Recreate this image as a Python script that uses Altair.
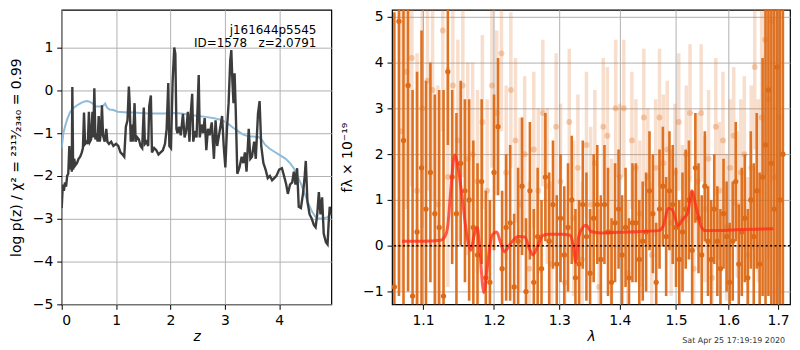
import altair as alt
import pandas as pd

# ---------------- left panel: log p(z) ----------------
logpz_z = [0.00,0.02,0.04,0.06,0.08,0.10,0.12,0.14,0.155,0.17,0.185,0.195,0.21,0.23,0.25,0.28,0.31,0.34,0.37,0.39,
           0.41,0.43,0.46,0.48,0.50,0.52,0.54,0.565,0.58,0.60,0.62,0.64,0.66,0.68,0.70,0.72,0.74,0.76,0.79,0.82,
           0.84,0.87,0.91,0.95,1.00,1.04,1.08,1.12,1.15,1.18,1.21,1.235,1.25,1.27,1.29,1.31,1.34,1.36,1.39,1.42,
           1.45,1.48,1.51,1.53,1.56,1.59,1.61,1.64,1.66,1.70,1.74,1.78,1.82,1.86,1.90,1.93,1.96,1.98,2.01,2.04,
           2.07,2.09,2.11,2.13,2.16,2.19,2.23,2.26,2.29,2.32,2.35,2.37,2.40,2.42,2.45,2.48,2.52,2.54,2.57,2.60,
           2.63,2.66,2.69,2.72,2.76,2.80,2.83,2.86,2.90,2.95,2.98,3.01,3.04,3.07,3.10,3.12,3.14,3.16,3.18,3.20,
           3.23,3.27,3.31,3.34,3.37,3.40,3.44,3.47,3.50,3.54,3.57,3.61,3.64,3.67,3.71,3.75,3.79,3.83,3.87,3.91,
           3.95,4.00,4.05,4.09,4.13,4.16,4.20,4.24,4.27,4.30,4.33,4.36,4.40,4.44,4.47,4.49,4.52,4.56,4.60,4.64,
           4.67,4.70,4.73,4.76,4.79,4.82,4.86,4.89,4.91,4.93,4.96]
logpz_v = [-2.75,-2.2,-2.35,-2.15,-2.25,-2.0,-1.95,-1.3,-1.85,-1.4,-1.9,0.08,-1.85,-1.6,-1.75,-1.7,-1.6,-1.55,-1.45,-1.35,
           -0.52,-1.25,-1.2,-1.25,-0.5,-1.2,-1.15,-0.5,-1.1,0.05,-1.15,-1.0,-1.2,-0.6,-1.2,-1.0,-0.35,-1.05,-1.2,-0.9,
           -1.2,-1.25,-1.2,-1.3,-1.25,-1.3,-1.45,-1.5,-1.55,-0.85,-0.7,0.09,-0.3,-1.2,-0.8,-1.2,-0.3,-1.2,-1.1,-1.15,
           -1.3,-1.35,-0.4,-1.25,-1.2,-1.3,-0.37,-0.12,-1.45,-1.35,-1.4,-1.5,-1.45,-1.4,-1.25,-0.9,0.17,-1.3,-1.35,0.2,
           1.0,0.85,-0.9,-1.0,-0.85,-1.05,-0.55,-1.1,-0.95,-0.5,-1.2,-0.6,-0.08,-1.2,-0.95,-1.1,0.36,-1.1,-0.8,-1.0,
           -0.65,-1.4,-0.9,-1.05,-0.75,-1.6,-0.7,-1.3,-1.0,-0.6,-1.3,-1.8,-0.9,-0.3,0.7,0.94,0.2,-0.3,0.4,-0.4,
           -1.95,-1.8,-1.55,-1.7,-1.45,-1.9,-0.9,-1.6,-1.55,-1.2,-1.6,-0.55,-0.25,-1.3,-1.7,-1.85,-2.05,-2.0,-2.1,-2.05,
           -2.0,-1.85,-1.82,-2.0,-2.2,-2.42,-2.2,-2.15,-1.9,-2.2,-1.82,-2.72,-2.75,-2.4,-2.0,-1.65,-2.6,-2.9,-3.0,-3.15,
           -3.2,-2.9,-2.38,-2.9,-2.5,-3.35,-3.55,-3.6,-3.1,-2.72,-2.9]

prior_z = [0.0,0.03,0.06,0.10,0.15,0.20,0.27,0.35,0.42,0.47,0.52,0.57,0.63,0.68,0.73,0.77,0.80,0.83,0.88,0.95,
           1.03,1.15,1.30,1.45,1.60,1.75,1.90,2.05,2.20,2.35,2.50,2.65,2.80,2.90,3.00,3.08,3.16,3.25,3.33,3.42,
           3.52,3.62,3.68,3.74,3.82,3.92,4.02,4.12,4.20,4.27,4.33,4.40,4.47,4.54,4.60,4.66,4.72,4.80,4.88,4.96]
prior_v = [-1.35,-1.0,-0.85,-0.68,-0.52,-0.43,-0.36,-0.30,-0.26,-0.25,-0.27,-0.31,-0.38,-0.38,-0.37,-0.35,-0.31,-0.40,-0.45,-0.46,
           -0.50,-0.51,-0.52,-0.53,-0.54,-0.54,-0.54,-0.53,-0.54,-0.57,-0.60,-0.62,-0.65,-0.68,-0.73,-0.80,-0.88,-0.96,-1.03,-1.07,
           -1.08,-1.09,-1.15,-1.27,-1.36,-1.44,-1.52,-1.60,-1.70,-1.82,-1.98,-2.18,-2.42,-2.65,-2.82,-2.94,-2.99,-3.0,-2.97,-2.88]

z_ticks = [0, 1, 2, 3, 4]
logp_ticks = [-5, -4, -3, -2, -1, 0, 1]
label_line1 = "j161644p5545"
label_line2 = "ID=1578\u00a0\u00a0\u00a0z=2.0791"

# ---------------- right panel: spectrum ----------------
d_lam = [1.062,1.068,1.074,1.080,1.086,1.092,1.098,1.104,1.110,1.116,1.122,1.128,1.134,1.140,1.146,1.152,1.158,1.164,1.170,1.176,
         1.182,1.188,1.194,1.200,1.206,1.212,1.218,1.224,1.230,1.236,1.242,1.248,1.254,1.260,1.266,1.272,1.278,1.284,1.290,1.296,
         1.302,1.308,1.314,1.320,1.326,1.332,1.338,1.344,1.350,1.356,1.362,1.368,1.374,1.380,1.386,1.392,1.398,1.404,1.410,1.416,
         1.422,1.428,1.434,1.440,1.446,1.452,1.458,1.464,1.470,1.476,1.482,1.488,1.494,1.500,1.506,1.512,1.518,1.524,1.530,1.536,
         1.542,1.548,1.554,1.560,1.566,1.572,1.578,1.584,1.590,1.596,1.602,1.608,1.614,1.620,1.626,1.632,1.638,1.644,1.650,1.656,
         1.662,1.668,1.674,1.680,1.686,1.692,1.698,1.704,1.710]
d_flux = [-0.9,4.9,2.3,3.5,-1.1,0.3,1.7,0.8,1.6,0.7,0.4,-1.1,3.8,1.5,0.7,1.8,1.2,1.0,0.4,-0.2,
          1.4,-0.7,-0.8,1.6,2.6,-0.5,0.4,0.5,-0.9,0.1,1.3,-1.0,1.2,-0.8,0.2,-0.5,1.5,0.1,0.9,-0.4,
          0.6,-0.2,0.4,1.0,-0.7,-0.4,0.9,0.2,-0.6,0.6,0.9,-0.3,0.9,0.3,-0.8,0.5,0.8,-0.2,0.4,-0.7,
          0.5,0.5,-0.3,0.1,0.3,1.2,0.7,-0.8,0.8,1.3,0.2,1.2,0.9,0.4,-0.3,0.3,0.8,1.0,-0.1,1.7,
          0.6,-0.2,1.3,0.1,-0.3,0.8,0.1,-0.5,0.7,0.2,-0.8,0.1,1.4,-0.4,0.3,0.6,-0.7,1.0,0.2,1.2,
          -0.4,1.5,2.2,3.4,1.8,0.8,3.9,1.0,2.0]
d_err = [6.0,6.0,5.0,4.5,4.5,3.5,3.0,2.8,2.4,2.6,3.0,4.5,1.6,1.9,2.2,1.8,2.0,2.2,1.9,2.0,
         1.8,1.9,1.8,1.7,1.5,1.7,1.6,1.7,1.6,1.6,1.5,1.6,1.5,1.6,1.5,1.5,1.4,1.5,1.4,1.5,
         1.4,1.5,1.4,1.4,1.5,1.4,1.4,1.4,1.4,1.4,1.3,1.4,1.3,1.4,1.4,1.3,1.3,1.3,1.3,1.3,
         1.3,1.3,1.3,1.3,1.3,1.3,1.3,1.3,1.3,1.3,1.3,1.3,1.3,1.3,1.3,1.3,1.3,1.3,1.3,1.2,
         1.2,1.3,1.2,1.2,1.3,1.2,1.2,1.3,1.2,1.2,1.3,1.3,1.3,1.3,1.4,1.4,1.5,1.5,1.6,1.7,
         2.0,2.6,3.5,4.5,5.0,6.0,6.0,6.0,6.0]

l_lam = [1.071,1.078,1.085,1.092,1.099,1.106,1.113,1.120,1.127,1.134,1.141,1.148,1.155,1.162,1.169,1.176,1.183,1.190,1.197,1.204,
         1.211,1.218,1.225,1.232,1.239,1.246,1.253,1.260,1.267,1.274,1.281,1.288,1.295,1.302,1.309,1.316,1.323,1.330,1.337,1.344,
         1.351,1.358,1.365,1.372,1.379,1.386,1.393,1.400,1.407,1.414,1.421,1.428,1.435,1.442,1.449,1.456,1.463,1.470,1.477,1.484,
         1.491,1.498,1.505,1.512,1.519,1.526,1.533,1.540,1.547,1.554,1.561,1.568,1.575,1.582,1.589,1.596,1.603,1.610,1.617,1.624,
         1.631,1.638,1.645,1.652,1.659,1.666,1.673,1.680,1.687,1.694,1.701]
l_flux = [2.5,3.8,4.1,1.2,3.0,3.6,3.4,0.9,4.7,1.5,3.5,2.3,3.5,1.9,2.0,1.4,2.7,1.2,3.5,2.9,
          4.2,1.6,3.4,2.3,0.9,2.0,-0.5,2.1,1.2,2.9,1.3,-0.4,2.6,1.4,-0.8,2.7,0.6,1.7,-0.3,2.2,
          0.9,1.8,-0.9,2.6,2.4,0.3,3.0,1.5,3.0,-0.6,2.3,1.7,0.7,2.8,1.5,-0.2,1.7,2.8,1.8,2.1,
          0.5,1.6,2.7,0.6,2.0,2.9,-0.5,1.4,2.9,0.8,1.9,-0.7,2.6,1.2,2.3,0.4,1.7,2.4,0.9,1.6,
          2.0,-0.2,1.7,3.9,1.2,2.8,4.5,3.2,4.9,1.5,2.8]
l_err = [3.5,3.0,2.8,3.0,2.6,2.4,2.4,2.6,2.2,2.4,2.0,2.2,2.0,2.1,2.0,2.0,1.9,2.0,1.8,1.8,
         1.7,1.9,1.7,1.8,1.9,1.7,1.9,1.7,1.8,1.6,1.7,1.8,1.6,1.7,1.8,1.6,1.7,1.6,1.7,1.6,
         1.7,1.6,1.7,1.5,1.5,1.6,1.5,1.6,1.5,1.6,1.5,1.5,1.6,1.5,1.5,1.6,1.5,1.5,1.5,1.5,
         1.6,1.5,1.5,1.6,1.5,1.5,1.6,1.5,1.5,1.6,1.5,1.6,1.5,1.5,1.5,1.6,1.5,1.5,1.6,1.6,
         1.7,1.7,1.8,1.8,2.0,2.4,3.0,3.5,3.5,3.5,3.5]

model_lam = [1.072,1.100,1.124,1.130,1.134,1.138,1.1435,1.149,1.156,1.1605,1.1666,1.171,1.1757,1.179,1.1851,1.1898,1.197,1.204,1.209,1.2154,
             1.2241,1.2364,1.2462,1.2536,1.2586,1.2662,1.2737,1.2837,1.3042,1.3171,1.3223,1.3266,1.3313,1.3366,1.3435,1.3516,1.3677,1.4114,1.4684,1.477,
             1.4859,1.4934,1.5037,1.5127,1.5218,1.5297,1.537,1.5462,1.5542,1.5834,1.615,1.69]
model_flux = [0.10,0.10,0.12,0.20,0.45,1.2,1.98,1.65,0.8,0.25,-0.1,0.22,0.4,-0.05,-1.02,-0.5,0.22,0.3,0.1,-0.13,
              0.04,0.2,0.19,-0.08,-0.2,0.0,0.22,0.25,0.25,0.23,0.02,-0.36,0.2,0.37,0.45,0.31,0.28,0.3,0.33,0.44,
              0.82,0.78,0.44,0.58,0.72,1.2,0.86,0.44,0.33,0.33,0.35,0.37]

lam_ticks = [1.1, 1.2, 1.3, 1.4, 1.5, 1.6, 1.7]
flux_ticks = [-1, 0, 1, 2, 3, 4, 5]
zero_level = [0.0]
timestamp = "Sat Apr 25 17:19:19 2020"

ORANGE = "#dd6a16"
FONT = "DejaVu Sans"
minus = "replace(datum.label, '-', '\u2212')"

# ---------------- build left ----------------
df_logp = pd.DataFrame({"z": logpz_z, "v": logpz_v})
df_prior = pd.DataFrame({"z": prior_z, "v": prior_v})
df_lab1 = pd.DataFrame({"t": [label_line1]})
df_lab2 = pd.DataFrame({"t": [label_line2]})

xz = alt.X("z:Q", scale=alt.Scale(domain=[0, 4.96], nice=False),
           axis=alt.Axis(values=z_ticks, title="z", titleFontStyle="italic", labelExpr=minus))
yz = alt.Y("v:Q", scale=alt.Scale(domain=[-5, 1.88], nice=False),
           axis=alt.Axis(values=logp_ticks, labelExpr=minus, titlePadding=9,
                         title="log p(z) / \u03c7\u00b2 = \u00b2\u00b3\u00b9\u00b3\u2044\u2082\u2083\u2084\u2080 = 0.99"))

prior_line = alt.Chart(df_prior).mark_line(color="#8fbbda", strokeWidth=2, clip=True).encode(x=xz, y=yz)
logp_line = alt.Chart(df_logp).mark_line(color="#3c3c3c", strokeWidth=2.4, clip=True).encode(x=xz, y=yz)
lab_text1 = alt.Chart(df_lab1).mark_text(align="right", baseline="alphabetic", fontSize=12, font=FONT,
                                         color="black").encode(x=alt.value(256), y=alt.value(24), text="t:N")
lab_text2 = alt.Chart(df_lab2).mark_text(align="right", baseline="alphabetic", fontSize=12, font=FONT,
                                         color="black").encode(x=alt.value(256), y=alt.value(37), text="t:N")

left = alt.layer(prior_line, logp_line, lab_text1, lab_text2).properties(width=271, height=296)

# ---------------- build right ----------------
df_d = pd.DataFrame({"lam": d_lam, "f": d_flux, "e": d_err})
df_d["lo"] = df_d["f"] - df_d["e"]
df_d["hi"] = df_d["f"] + df_d["e"]
df_l = pd.DataFrame({"lam": l_lam, "f": l_flux, "e": l_err})
df_l["lo"] = df_l["f"] - df_l["e"]
df_l["hi"] = df_l["f"] + df_l["e"]
df_m = pd.DataFrame({"lam": model_lam, "f": model_flux})
df_zero = pd.DataFrame({"f": zero_level})
df_ts = pd.DataFrame({"t": [timestamp]})

xl = alt.X("lam:Q", scale=alt.Scale(type="log", domain=[1.059, 1.725], nice=False),
           axis=alt.Axis(values=lam_ticks, format=".1f", title="\u03bb", titleFontStyle="italic"))
yscale = alt.Scale(domain=[-1.28, 5.15], nice=False)
yl = alt.Y("f:Q", scale=yscale,
           axis=alt.Axis(values=flux_ticks, labelExpr=minus, titlePadding=8,
                         title="f\u03bb \u00d7 10\u207b\u00b9\u2079"))

light_bars = alt.Chart(df_l).mark_rule(color=ORANGE, opacity=0.22, strokeWidth=3.5, clip=True).encode(
    x=xl, y=alt.Y("lo:Q", scale=yscale), y2="hi:Q")
light_pts = alt.Chart(df_l).mark_point(filled=True, color=ORANGE, opacity=0.3, size=36, clip=True).encode(x=xl, y=yl)
dark_bars = alt.Chart(df_d).mark_rule(color=ORANGE, opacity=0.95, strokeWidth=2.6, clip=True).encode(
    x=xl, y=alt.Y("lo:Q", scale=yscale), y2="hi:Q")
dark_pts = alt.Chart(df_d).mark_point(filled=True, color=ORANGE, opacity=1, size=28, clip=True).encode(x=xl, y=yl)
model_line = alt.Chart(df_m).mark_line(color="#ff2a1a", opacity=0.75, strokeWidth=3, interpolate="monotone",
                                       clip=True).encode(x=xl, y=yl)
zero_line = alt.Chart(df_zero).mark_rule(color="black", strokeWidth=1.6, strokeDash=[2, 2.5]).encode(
    y=alt.Y("f:Q", scale=yscale))
ts_text = alt.Chart(df_ts).mark_text(align="right", baseline="alphabetic", fontSize=8, font=FONT,
                                     color="#333333").encode(x=alt.value(395), y=alt.value(335), text="t:N")

right = alt.layer(light_bars, light_pts, dark_bars, dark_pts, model_line, zero_line, ts_text).properties(
    width=400, height=296)

chart = alt.hconcat(left, right, spacing=7).properties(padding=0).configure(font=FONT).configure_axis(
    labelFont=FONT, titleFont=FONT, labelFontSize=14, titleFontSize=14, labelColor="black", titleColor="black",
    titleFontWeight="normal", tickColor="black", tickSize=5, tickWidth=1, labelPadding=4, domain=False,
    gridColor="#b0b0b0", gridWidth=1, gridOpacity=1, grid=True
).configure_axisX(titlePadding=2).configure_view(stroke="black", strokeWidth=1.2)

chart.save("out.html", embed_options={"renderer": "svg", "actions": False})
